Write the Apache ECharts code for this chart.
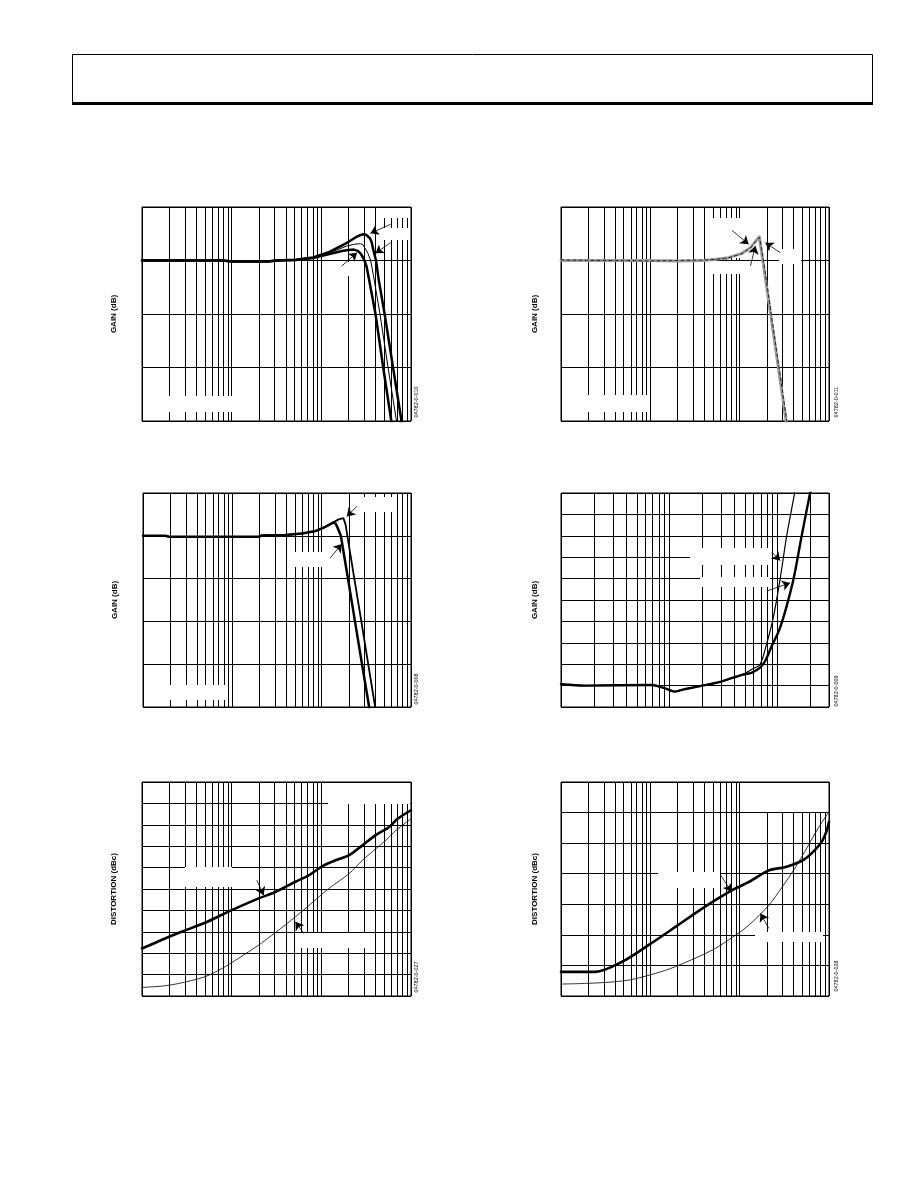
<!DOCTYPE html>
<html><head><meta charset="utf-8">
<script src="https://cdn.jsdelivr.net/npm/echarts@6/dist/echarts.min.js"></script>
<style>html,body{margin:0;padding:0;background:#fff}#c{width:918px;height:1188px}</style>
</head><body><div id="c"></div>
<script>
// ---------- DATA (frequency in MHz on log axes) ----------
// Chart 1: gain vs frequency, three curves
const c1FreqA = [1, 8, 10, 25, 32, 52, 81, 123, 191, 245, 275, 295, 315, 331, 348, 363, 380, 407, 437, 508, 631, 783, 851];
const c1GainA = [0, 0, -0.05, -0.05, 0, 0.04, 0.17, 0.48, 0.98, 1.32, 1.43, 1.47, 1.45, 1.37, 1.25, 1.05, 0.6, 0.0, -1.1, -3, -6, -9, -10.2];
const c1FreqB = [1, 8, 10, 25, 32, 52, 81, 123, 191, 229, 250, 272, 290, 302, 331, 355, 380, 451, 555, 689, 759];
const c1GainB = [0, 0, -0.05, -0.05, 0, 0.04, 0.16, 0.42, 0.81, 0.9, 0.93, 0.94, 0.9, 0.81, 0.4, 0.0, -0.8, -3, -6, -9, -10.3];
const c1FreqC = [1, 8, 10, 25, 32, 52, 81, 123, 170, 200, 230, 255, 275, 300, 320, 343, 402, 490, 603, 661];
const c1GainC = [0, 0, -0.05, -0.05, 0, 0.03, 0.14, 0.36, 0.53, 0.59, 0.61, 0.54, 0.38, 0.05, -0.35, -1.15, -3, -6, -9, -10.3];
const c1Arrows = [[593, 2.03, 353, 1.53], [593, 1.0, 402, 0.4], [169, -0.31, 250, 0.44]];

// Chart 2: gray curve + black dashed curve
const c2FreqGray = [1, 10, 20, 40, 54, 75, 106, 132, 151, 166, 181, 331, 355];
const c2GainGray = [0, 0, -0.03, 0, 0.07, 0.16, 0.4, 0.72, 1.09, 1.33, 0.05, -9, -10.2];
const c2FreqDash = [1, 10, 20, 40, 54, 75, 106, 132, 151, 167, 184, 337, 362];
const c2GainDash = [0.03, -0.03, 0, 0.03, 0.06, 0.15, 0.38, 0.7, 1.06, 1.3, 0.05, -9, -10.2];
const c2Arrows = [[82, 1.69, 126, 0.91], [132, -0.31, 150, 0.81], [285, 0.44, 194, 1.0]];

// Chart 3: two curves
const c3FreqA = [1, 1.78, 1.97, 19.6, 21.4, 38.9, 60.3, 85.1, 110, 125, 135, 143, 150, 164, 197, 236, 283, 340, 372];
const c3GainA = [0, 0, -0.07, -0.07, 0.02, 0.05, 0.16, 0.33, 0.63, 0.82, 0.92, 0.85, 0.6, 0, -3, -6, -9, -12, -13.5];
const c3FreqB = [1, 1.78, 1.97, 19.6, 21.4, 38.9, 60.3, 85.1, 110, 125, 135, 155, 175, 185, 194, 232, 278, 332, 397, 433];
const c3GainB = [0, 0, -0.07, -0.07, 0.02, 0.05, 0.16, 0.33, 0.63, 0.82, 0.94, 1.15, 1.24, 0.8, 0, -3, -6, -9, -12, -13.5];
const c3Arrows = [[248, 2.06, 191, 1.36], [124, -1.57, 168, -0.58]];

// Chart 4: gain flatness, thin and thick curve
const c4FreqThin = [1, 1.67, 6.9, 7.9, 9.2, 11.2, 13.1, 16.2, 20.7, 26.6, 35.3, 46.9, 58.1, 69.2, 79.8, 91.8, 106, 122, 144, 151];
const c4GainThin = [0.006, 0, 0.003, -0.003, -0.013, -0.028, -0.02, -0.01, 0.001, 0.012, 0.03, 0.05, 0.076, 0.1, 0.198, 0.319, 0.498, 0.701, 0.897, 0.96];
const c4FreqThick = [1, 1.67, 6.9, 7.9, 9.2, 11.2, 13.1, 16.2, 20.7, 26.6, 35.3, 46.9, 58.1, 69.2, 77.1, 88.7, 104, 120, 141, 168, 200, 214];
const c4GainThick = [0.006, 0, 0.003, -0.003, -0.013, -0.028, -0.02, -0.01, 0.001, 0.012, 0.03, 0.05, 0.061, 0.084, 0.115, 0.185, 0.26, 0.36, 0.498, 0.701, 0.897, 0.96];
const c4Arrows = [[88.8, 0.624, 106, 0.584], [80.9, 0.443, 131, 0.48]];

// Chart 5: distortion, thick and thin
const c5FreqThick = [1, 1.65, 2.76, 5.04, 9.2, 20, 30.7, 51.4, 72.4, 102, 144, 204, 287, 405, 571, 708, 1000];
const c5DistThick = [-88.9, -86.9, -85.0, -82.9, -80.3, -77.2, -75.7, -73.3, -71.8, -69.7, -68.3, -67.1, -64.8, -62.4, -60.5, -58.6, -56.6];
const c5FreqThin = [1, 1.65, 2.53, 5.04, 7.74, 11.9, 20, 30.7, 51.4, 79.1, 121, 204, 287, 405, 525, 679, 1000];
const c5DistThin = [-98.0, -97.7, -97.1, -95.5, -93.6, -91.2, -88.1, -85.2, -81.5, -78.2, -74.9, -71.4, -68.3, -65.6, -63.6, -61.3, -58.6];
const c5Arrows = [[19.1, -72.94, 22.7, -76.44], [63.7, -85.38, 51.4, -82.66]];

// Chart 6: distortion, thick and thin
const c6FreqThick = [1, 2.43, 4.83, 9.6, 19.1, 38, 82.4, 127, 212, 327, 524, 805, 933, 1000];
const c6DistThick = [-92.1, -92.1, -88.8, -83.3, -77.4, -71.4, -65.4, -62.7, -58.9, -57.8, -55.4, -50.1, -46.3, -43.0];
const c6FreqThin = [1, 2.64, 5.73, 11.4, 19.1, 49.2, 89.9, 127, 212, 300, 423, 547, 771, 1000];
const c6DistThin = [-96.1, -95.7, -94.8, -92.6, -90.4, -85.0, -80.1, -76.8, -70.3, -64.3, -57.8, -52.3, -44.7, -39.8];
const c6Arrows = [[61.1, -60.48, 81.1, -65.93], [212, -77.9, 171, -73.0]];

// minor log grid values
const minorTicks = [2,3,4,5,6,7,8,9,20,30,40,50,60,70,80,90,200,300,400,500,600,700,800,900];

// ---------- LAYOUT ----------
const FONT = '"Liberation Sans", Arial, sans-serif';
const panels = [
  {grid:{left:142,top:207,width:269,height:214}, xMax:1000, yMin:-9, yMax:3, yInt:3, yName:'GAIN (dB)', gap:24, fig:'04782-0-010', figPos:[416,402], smooth:false,
   curves:[{f:c1FreqA,v:c1GainA,w:2.5},{f:c1FreqB,v:c1GainB,w:1},{f:c1FreqC,v:c1GainC,w:2.5}], arrows:c1Arrows},
  {grid:{left:561,top:207,width:268,height:214}, xMax:1000, yMin:-9, yMax:3, yInt:3, yName:'GAIN (dB)', gap:22.5, fig:'04782-0-011', figPos:[836,402], smooth:false,
   curves:[{f:c2FreqGray,v:c2GainGray,w:3,color:'#9c9c9c'},{f:c2FreqDash,v:c2GainDash,w:1,type:[3,3],color:'#222'}], arrows:c2Arrows},
  {grid:{left:143,top:493,width:268,height:214}, xMax:1000, yMin:-12, yMax:3, yInt:3, yName:'GAIN (dB)', gap:24, fig:'04782-0-008', figPos:[416,689], smooth:false,
   curves:[{f:c3FreqA,v:c3GainA,w:2.5},{f:c3FreqB,v:c3GainB,w:1.8}], arrows:c3Arrows},
  {grid:{left:561,top:493,width:268,height:214}, xMax:300, yMin:-0.1, yMax:0.9, yInt:0.1, yName:'GAIN (dB)', gap:22.5, fig:'04782-0-009', figPos:[836,691], smooth:0.3,
   curves:[{f:c4FreqThick,v:c4GainThick,w:2.4},{f:c4FreqThin,v:c4GainThin,w:1.2}], arrows:c4Arrows},
  {grid:{left:142,top:782,width:269,height:214}, xMax:1000, yMin:-100, yMax:-50, yInt:5, yName:'DISTORTION (dBc)', gap:24, fig:'04782-0-027', figPos:[416,977], smooth:0.3,
   curves:[{f:c5FreqThick,v:c5DistThick,w:2.6},{f:c5FreqThin,v:c5DistThin,w:0.8}], arrows:c5Arrows},
  {grid:{left:561,top:782,width:268,height:214}, xMax:1000, yMin:-100, yMax:-30, yInt:10, yName:'DISTORTION (dBc)', gap:22.5, fig:'04782-0-028', figPos:[836,976], smooth:0.3,
   curves:[{f:c6FreqThick,v:c6DistThick,w:2.6},{f:c6FreqThin,v:c6DistThin,w:0.8}], arrows:c6Arrows}
];

// white boxes where label text was erased [x, y, w, h]
const blanks = [
  [379,208,31,10],[378,228,32,12],[339,262,19,14],[167,396,67,16],
  [713,218,31,40],[713,261,31,13],[779,249,22,15],[587,395,63,17],
  [362,497,30,15],[290,552,35,15],[167,685,58,15],
  [690,548,82,17],[700,577,70,10],
  [328,783,82,21],[185,867,47,20],[297,933,78,15],
  [767,783,61,29],[658,872,62,16],[755,932,68,10]
];

const option = {animation:false, backgroundColor:'#fff', grid:[], xAxis:[], yAxis:[], series:[], graphic:[]};

panels.forEach((p, i) => {
  option.grid.push(Object.assign({show:true, borderColor:'#000', borderWidth:1, backgroundColor:'transparent', containLabel:false}, p.grid));
  option.xAxis.push({type:'log', logBase:10, min:1, max:p.xMax, gridIndex:i,
    axisLabel:{show:false}, axisTick:{show:false}, axisLine:{show:false},
    splitLine:{show:true, lineStyle:{color:'#000', width:1}}});
  option.yAxis.push({type:'value', min:p.yMin, max:p.yMax, interval:p.yInt, gridIndex:i,
    axisLabel:{show:false}, axisTick:{show:false}, axisLine:{show:false},
    splitLine:{show:true, lineStyle:{color:'#000', width:1}},
    name:p.yName, nameLocation:'middle', nameGap:p.gap, nameRotate:90,
    nameTextStyle:{fontSize:8, fontWeight:'bold', fontFamily:FONT, color:'#000'}});
  // minor vertical log grid lines
  const yMin = p.yMin, yMax = p.yMax;
  option.series.push({type:'custom', xAxisIndex:i, yAxisIndex:i, z:0, silent:true, clip:true,
    data: minorTicks.filter(v => v < p.xMax).map(v => [v, yMin]),
    encode:{x:0, y:1},
    renderItem:(params, api) => {
      const v = api.value(0);
      const a = api.coord([v, yMax]);
      const b = api.coord([v, yMin]);
      const x = Math.round(a[0]) + 0.5;
      return {type:'line', shape:{x1:x, y1:a[1], x2:x, y2:b[1]}, style:{stroke:'#000', lineWidth:1}};
    }});
  p.curves.forEach((c, k) => {
    const s = {type:'line', xAxisIndex:i, yAxisIndex:i, symbol:'none', silent:true, z: 2 + k,
      smooth:p.smooth, emphasis:{disabled:true},
      lineStyle:{color:c.color || '#000', width:c.w, type:c.type || 'solid', join:'round', cap:'round'},
      data:c.f.map((f, j) => [f, c.v[j]])};
    if (k === 0) {
      s.markLine = {silent:true, symbol:['none','arrow'], symbolSize:8, label:{show:false},
        emphasis:{disabled:true}, animation:false,
        lineStyle:{color:'#000', width:0.8, type:'solid'},
        data:p.arrows.map(a => [{coord:[a[0], a[1]]}, {coord:[a[2], a[3]]}])};
    }
    option.series.push(s);
  });
  option.graphic.push({type:'text', x:p.figPos[0], y:p.figPos[1], rotation:Math.PI/2, z:10,
    style:{text:p.fig, fontSize:5.5, fontFamily:FONT, fill:'#000', align:'center', verticalAlign:'middle', textAlign:'center', textVerticalAlign:'middle'}});
});

blanks.forEach(b => option.graphic.push({type:'rect', z:1, silent:true,
  shape:{x:b[0], y:b[1], width:b[2], height:b[3]}, style:{fill:'#fff', stroke:null}}));

// page header box
option.graphic.push({type:'rect', z:1, shape:{x:72.5, y:54.5, width:800, height:49}, style:{fill:'none', stroke:'#000', lineWidth:1}});
option.graphic.push({type:'line', z:1, shape:{x1:72, y1:103.5, x2:873, y2:103.5}, style:{stroke:'#000', lineWidth:3}});

const chart = echarts.init(document.getElementById('c'), null, {renderer:'canvas', width:918, height:1188});
chart.setOption(option);
</script></body></html>
